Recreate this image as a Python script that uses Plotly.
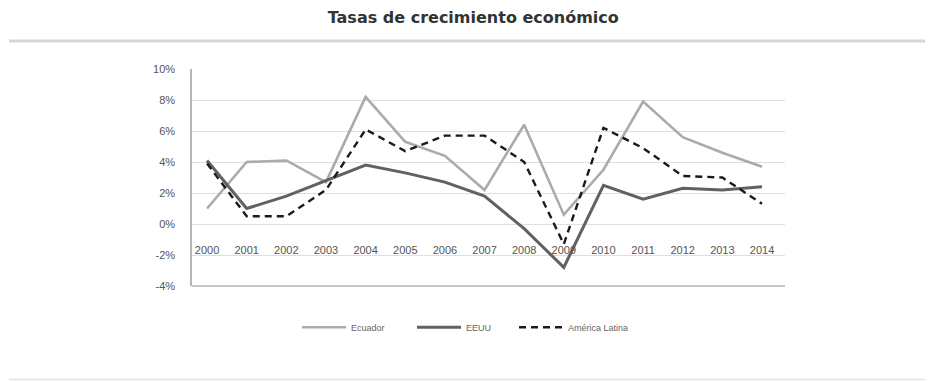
import plotly.graph_objects as go

# Annual GDP growth rates (%)
years = [str(y) for y in range(2000, 2015)]
ecuador = [1.0, 4.0, 4.1, 2.7, 8.2, 5.3, 4.4, 2.2, 6.4, 0.6, 3.5, 7.9, 5.6, 4.6, 3.7]
eeuu = [4.1, 1.0, 1.8, 2.8, 3.8, 3.3, 2.7, 1.8, -0.3, -2.8, 2.5, 1.6, 2.3, 2.2, 2.4]
america_latina = [3.9, 0.5, 0.5, 2.2, 6.1, 4.7, 5.7, 5.7, 4.0, -1.3, 6.2, 4.9, 3.1, 3.0, 1.3]

# Value-axis ticks, labelled with a plain hyphen for negatives
y_ticks = [-4, -2, 0, 2, 4, 6, 8, 10]
y_tick_labels = [f"{v}%" for v in y_ticks]

y_min, y_max = y_ticks[0], y_ticks[-1]

fig = go.Figure()
fig.add_trace(go.Scatter(x=years, y=ecuador, name="Ecuador", mode="lines",
                         line=dict(color="#ababab", width=2.6), legend="legend"))
fig.add_trace(go.Scatter(x=years, y=eeuu, name="EEUU", mode="lines",
                         line=dict(color="#616161", width=3), legend="legend"))
fig.add_trace(go.Scatter(x=years, y=america_latina, name="América Latina", mode="lines",
                         line=dict(color="#1a1a1a", width=2.4, dash="7px,5px"),
                         legend="legend2"))

legend_style = dict(orientation="h", y=-0.19, yanchor="middle", xanchor="left",
                    font=dict(size=9, color="#666666"), itemwidth=44,
                    bgcolor="rgba(0,0,0,0)")

fig.update_layout(
    width=928, height=381,
    margin=dict(l=192, r=143, t=69, b=95),
    paper_bgcolor="white", plot_bgcolor="white",
    font=dict(family="Liberation Sans, Arial, sans-serif", color="#555555"),
    title=dict(text="<b>Tasas de crecimiento económico</b>",
               x=0.51, xanchor="center", y=0.955, yanchor="middle",
               font=dict(family="DejaVu Sans, sans-serif", size=16, color="#333333")),
    showlegend=True,
    legend=dict(legend_style, x=(297 - 192) / 593,
                entrywidth=56, entrywidthmode="pixels"),
    legend2=dict(legend_style, x=(514 - 192) / 593),
    xaxis=dict(type="category", range=[-0.38, 14.58], anchor="free",
               position=(0 - y_min) / (y_max - y_min),
               showgrid=False, showline=False, zeroline=False,
               ticks="", ticklabelstandoff=18,
               tickfont=dict(size=11, color="#555555")),
    yaxis=dict(range=[y_min, y_max], tickmode="array",
               tickvals=y_ticks, ticktext=y_tick_labels,
               showgrid=True, gridcolor="#dedede", gridwidth=1,
               zeroline=False, showline=True, linecolor="#b5b5b5", linewidth=1.5,
               ticks="", ticklabelstandoff=13,
               tickfont=dict(size=11, color="#555555")),
    shapes=[
        # bottom border of the plotting area
        dict(type="line", xref="paper", yref="paper", x0=0, x1=1, y0=0, y1=0,
             line=dict(color="#b5b5b5", width=1.5)),
        # separator under the title
        dict(type="line", xref="paper", yref="paper",
             x0=(9 - 192) / 593, x1=(925 - 192) / 593,
             y0=(286 - 41) / 217, y1=(286 - 41) / 217,
             line=dict(color="#d6d6d6", width=3)),
        # separator at the foot
        dict(type="line", xref="paper", yref="paper",
             x0=(9 - 192) / 593, x1=(925 - 192) / 593,
             y0=(286 - 379.5) / 217, y1=(286 - 379.5) / 217,
             line=dict(color="#e2e2e2", width=1.5)),
    ],
)

fig.write_html("out.html")
